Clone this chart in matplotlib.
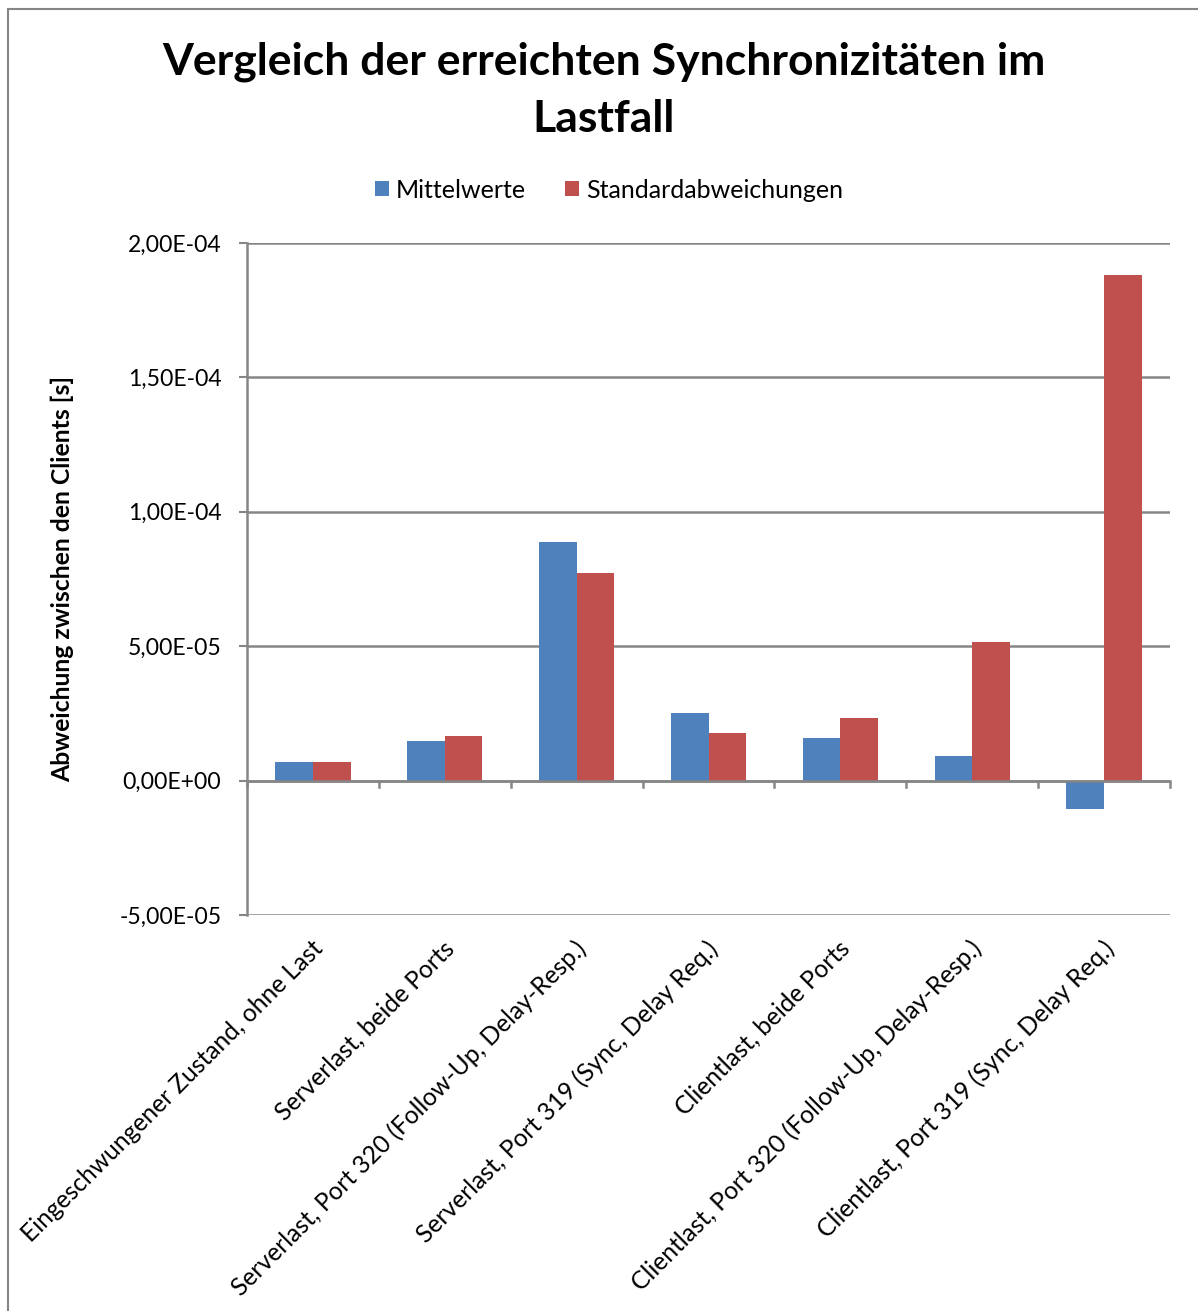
import matplotlib
matplotlib.use("Agg")
import matplotlib.pyplot as plt
from matplotlib.patches import Rectangle
from matplotlib.ticker import FuncFormatter, MultipleLocator
import numpy as np

categories = [
    "Eingeschwungener Zustand, ohne Last",
    "Serverlast, beide Ports",
    "Serverlast, Port 320 (Follow-Up, Delay-Resp.)",
    "Serverlast, Port 319 (Sync, Delay Req.)",
    "Clientlast, beide Ports",
    "Clientlast, Port 320 (Follow-Up, Delay-Resp.)",
    "Clientlast, Port 319 (Sync, Delay Req.)",
]
mittelwerte = [6.8e-6, 14.8e-6, 88.7e-6, 25.2e-6, 15.8e-6, 9.1e-6, -10.6e-6]
standardabweichungen = [6.9e-6, 16.6e-6, 77.3e-6, 17.8e-6, 23.3e-6, 51.6e-6, 188.2e-6]
series_names = ["Mittelwerte", "Standardabweichungen"]

BLUE = "#4F81BD"
RED = "#C0504D"
GRID = "#868686"
FONT = ["Lato", "DejaVu Sans"]

plt.rcParams["font.family"] = FONT

W, H = 1198, 1311
fig = plt.figure(figsize=(W / 100, H / 100), dpi=100)

# outer chart frame
fig.patches.append(Rectangle((8 / W, -0.01), 1.2, 1 - 8.5 / H + 0.01,
                             transform=fig.transFigure, fill=False,
                             edgecolor=GRID, linewidth=1.5))

ax = fig.add_axes([247 / W, 1 - 915 / H, (1170 - 247) / W, (915 - 243) / H])

x = np.arange(len(categories))
bw = 1 / 3.5
ax.bar(x - bw / 2, mittelwerte, width=bw, color=BLUE, label=series_names[0], zorder=3)
ax.bar(x + bw / 2, standardabweichungen, width=bw, color=RED, label=series_names[1], zorder=3)

ax.set_xlim(-0.5, len(categories) - 0.5)
ax.set_ylim(-5e-5, 2e-4)
ax.yaxis.set_major_locator(MultipleLocator(5e-5))


def sci_comma(v, pos):
    if abs(v) < 1e-12:
        return "0,00E+00"
    s = f"{v:.2E}"
    mant, exp = s.split("E")
    sign = exp[0]
    digits = exp[1:].lstrip("0").rjust(2, "0")
    return f"{mant.replace('.', ',')}E{sign}{digits}"


ax.yaxis.set_major_formatter(FuncFormatter(sci_comma))
ax.grid(axis="y", color=GRID, linewidth=1.8, zorder=1)
ax.tick_params(axis="y", length=6, width=1.5, color=GRID, labelsize=16.6, pad=12.5)

for side in ["top", "right", "bottom"]:
    ax.spines[side].set_visible(False)
ax.spines["left"].set_color(GRID)
ax.spines["left"].set_linewidth(1.8)

# horizontal category axis at zero with ticks between categories
ax.axhline(0, color=GRID, linewidth=1.8, zorder=4)
for b in np.arange(-0.5, len(categories), 1.0):
    ax.plot([b, b], [0, -2.2e-6], color=GRID, linewidth=1.8,
            zorder=4, clip_on=False)
ax.set_xticks([])

for xi, lab in zip(x, categories):
    ax.annotate(lab, xy=(xi, 0), xycoords=("data", "axes fraction"),
                xytext=(6, -30), textcoords="offset pixels",
                rotation=45, rotation_mode="anchor", ha="right", va="center",
                fontsize=17.7)

ax.set_ylabel("Abweichung zwischen den Clients [s]", fontsize=17.8,
              fontweight="bold")
ax.yaxis.set_label_coords(-0.1874, 0.5)

fig.text(604 / W, 1 - 62 / H, "Vergleich der erreichten Synchronizitäten im",
         ha="center", va="center", fontsize=32, fontweight="bold")
fig.text(604 / W, 1 - 119 / H, "Lastfall",
         ha="center", va="center", fontsize=32, fontweight="bold")

fig.legend(loc="center", bbox_to_anchor=(609 / W, 1 - 190 / H), ncol=2,
           frameon=False, fontsize=18, handlelength=0.56, handleheight=0.56,
           handletextpad=0.28, columnspacing=1.55)

fig.savefig("out.png", dpi=100, facecolor="white")
